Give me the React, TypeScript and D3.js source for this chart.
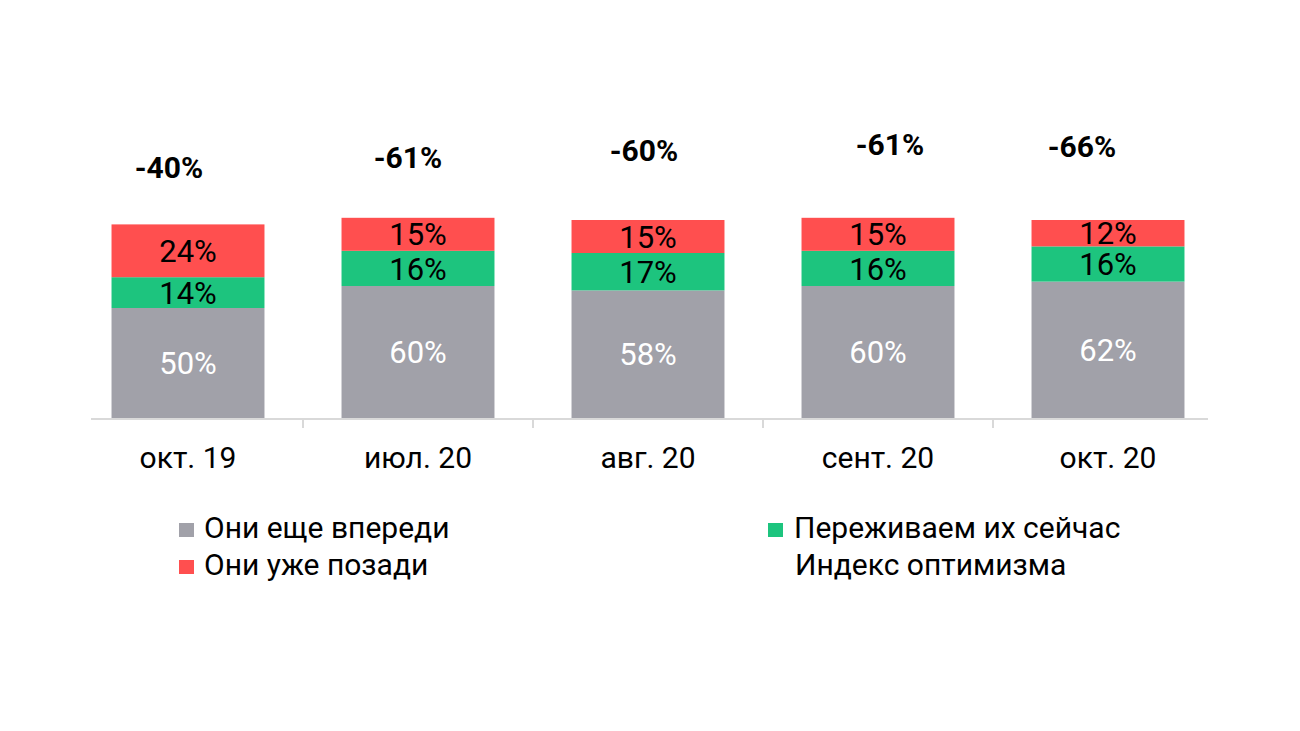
import React from "react";
import * as d3 from "d3";

const categories = ["окт. 19", "июл. 20", "авг. 20", "сент. 20", "окт. 20"];
const ahead = [50, 60, 58, 60, 62];
const now = [14, 16, 17, 16, 16];
const behind = [24, 15, 15, 15, 12];
const optimismIndex = [-40, -61, -60, -61, -66];

const seriesNames = ["Они еще впереди", "Переживаем их сейчас", "Они уже позади"];
const seriesColors = ["#a1a1a9", "#1dc47e", "#ff4f4f"];
const labelColors = ["#ffffff", "#000000", "#000000"];
const indexName = "Индекс оптимизма";

// layout offsets of the index labels (relative to bar centre / baseline)
const indexLabelDx = [-19, -10, -4, 12, -26];
const indexLabelY = [178, 168, 161, 155, 157];

const W = 1300;
const H = 731;
const FONT = "Roboto, 'Noto Sans', sans-serif";

export default function App() {
  const x = d3.scaleBand<string>().domain(categories).range([73, 1223]).paddingInner(0.335).paddingOuter(0.1675);
  const y = d3.scaleLinear().domain([0, 100]).range([418, 198]);

  const table = categories.map((c, i) => ({ cat: c, ahead: ahead[i], now: now[i], behind: behind[i] }));
  const stack = d3.stack<any>().keys(["ahead", "now", "behind"])(table);

  const step = x.step();
  const boundaries = categories.slice(1).map((c) => (x(c) as number) - (step - x.bandwidth()) / 2);

  return (
    <svg width={W} height={H} style={{ position: "absolute", left: 0, top: 0, background: "#fff" }} fontFamily={FONT}>
      {stack.map((layer, si) => (
        <g key={si}>
          {layer.map((d, i) => (
            <rect key={i} x={x(categories[i])} y={y(d[1])} width={x.bandwidth()} height={y(d[0]) - y(d[1])} fill={seriesColors[si]} />
          ))}
          {layer.map((d, i) => (
            <text
              key={"t" + i}
              x={(x(categories[i]) as number) + x.bandwidth() / 2}
              y={(y(d[0]) + y(d[1])) / 2}
              dy="0.36em"
              textAnchor="middle"
              fontSize={31}
              fill={labelColors[si]}
            >
              {`${d[1] - d[0]}%`}
            </text>
          ))}
        </g>
      ))}
      <line x1={91} x2={1208} y1={419} y2={419} stroke="#d9d9d9" strokeWidth={2} />
      {boundaries.map((b, i) => (
        <line key={i} x1={b} x2={b} y1={419} y2={428} stroke="#d9d9d9" strokeWidth={2} />
      ))}
      {categories.map((c, i) => (
        <text key={c} x={(x(c) as number) + x.bandwidth() / 2} y={468} textAnchor="middle" fontSize={30} fill="#000">
          {c}
        </text>
      ))}
      {optimismIndex.map((v, i) => (
        <text
          key={"idx" + i}
          x={(x(categories[i]) as number) + x.bandwidth() / 2 + indexLabelDx[i]}
          y={indexLabelY[i]}
          textAnchor="middle"
          fontSize={30}
          fontWeight="bold"
          fill="#000"
        >
          {`${v}%`}
        </text>
      ))}
      <g>
        <rect x={179} y={523} width={15} height={14} fill={seriesColors[0]} />
        <text x={204} y={538} fontSize={30} fill="#000">{seriesNames[0]}</text>
        <rect x={179} y={560} width={15} height={14} fill={seriesColors[2]} />
        <text x={204} y={575} fontSize={30} fill="#000">{seriesNames[2]}</text>
        <rect x={768} y={523} width={15} height={14} fill={seriesColors[1]} />
        <text x={794} y={538} fontSize={30} fill="#000">{seriesNames[1]}</text>
        <text x={795} y={575} fontSize={30} fill="#000">{indexName}</text>
      </g>
    </svg>
  );
}
